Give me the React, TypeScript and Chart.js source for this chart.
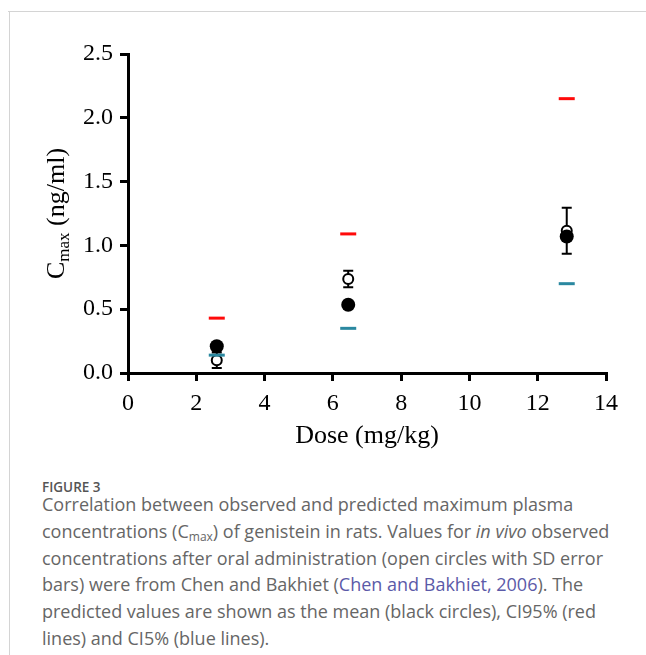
import React, { useEffect, useRef } from "react";
import { Chart, registerables } from "chart.js";

Chart.register(...registerables);

const doses = [2.6, 6.45, 12.85];
const ci95 = [0.43, 1.09, 2.15];
const ci5 = [0.14, 0.35, 0.70];
const predictedMean = [0.21, 0.535, 1.07];
const observedMean = [0.10, 0.737, 1.115];
const observedSD = [0.06, 0.065, 0.18];
const xTicks = [0, 2, 4, 6, 8, 10, 12, 14];
const yTicks = [0, 0.5, 1.0, 1.5, 2.0, 2.5];

const SERIF = '"Liberation Serif", "Times New Roman", serif';

const errorBarPlugin = {
  id: "errorBars",
  beforeDatasetDraw(chart: any, args: any) {
    if (args.index !== 3) return;
    const { ctx, scales } = chart;
    ctx.save();
    ctx.strokeStyle = "#000";
    ctx.lineWidth = 2;
    doses.forEach((d, i) => {
      const x = scales.x.getPixelForValue(d);
      const yTop = scales.y.getPixelForValue(observedMean[i] + observedSD[i]);
      const yBot = scales.y.getPixelForValue(observedMean[i] - observedSD[i]);
      ctx.beginPath();
      ctx.moveTo(x, yTop);
      ctx.lineTo(x, yBot);
      ctx.moveTo(x - 5, yTop);
      ctx.lineTo(x + 5, yTop);
      ctx.moveTo(x - 5, yBot);
      ctx.lineTo(x + 5, yBot);
      ctx.stroke();
    });
    ctx.restore();
  },
};

const yTitlePlugin = {
  id: "yTitle",
  afterDraw(chart: any) {
    const { ctx, chartArea } = chart;
    const big = `26px ${SERIF}`;
    const small = `17px ${SERIF}`;
    ctx.save();
    ctx.font = big;
    const wC = ctx.measureText("C").width;
    const wRest = ctx.measureText(" (ng/ml)").width;
    ctx.font = small;
    const wSub = ctx.measureText("max").width;
    const total = wC + wSub + wRest;
    const cy = (chartArea.top + chartArea.bottom) / 2;
    ctx.translate(64, cy);
    ctx.rotate(-Math.PI / 2);
    ctx.fillStyle = "#000";
    ctx.textBaseline = "alphabetic";
    ctx.textAlign = "left";
    let x = -total / 2;
    ctx.font = big;
    ctx.fillText("C", x, 0);
    x += wC;
    ctx.font = small;
    ctx.fillText("max", x, 5);
    x += wSub;
    ctx.font = big;
    ctx.fillText(" (ng/ml)", x, 0);
    ctx.restore();
  },
};

function ChartView() {
  const ref = useRef<HTMLCanvasElement | null>(null);
  useEffect(() => {
    if (!ref.current) return;
    const pts = (ys: number[]) => doses.map((d, i) => ({ x: d, y: ys[i] }));
    const chart = new Chart(ref.current, {
      type: "scatter",
      data: {
        datasets: [
          {
            label: "CI95%",
            data: pts(ci95),
            pointStyle: "line",
            pointRadius: 8,
            pointBorderWidth: 3,
            borderColor: "#ff0a0a",
            backgroundColor: "#ff0a0a",
          },
          {
            label: "CI5%",
            data: pts(ci5),
            pointStyle: "line",
            pointRadius: 8,
            pointBorderWidth: 3,
            borderColor: "#2a88a0",
            backgroundColor: "#2a88a0",
          },
          {
            label: "Predicted mean",
            data: pts(predictedMean),
            pointStyle: "circle",
            pointRadius: 7,
            pointBorderWidth: 0,
            borderColor: "#000",
            backgroundColor: "#000",
          },
          {
            label: "Observed",
            data: pts(observedMean),
            pointStyle: "circle",
            pointRadius: 5,
            pointBorderWidth: 2,
            borderColor: "#000",
            backgroundColor: "#fff",
          },
        ] as any,
      },
      options: {
        responsive: false,
        animation: false,
        devicePixelRatio: 1,
        layout: { padding: { top: 54, right: 40, bottom: 0, left: 0 } },
        plugins: {
          legend: { display: false },
          tooltip: { enabled: false },
        },
        scales: {
          x: {
            type: "linear",
            min: 0,
            max: 14,
            afterFit: (s: any) => {
              s.height = 97;
            },
            afterBuildTicks: (s: any) => {
              s.ticks = xTicks.map((v) => ({ value: v }));
            },
            ticks: {
              color: "#000",
              font: { family: SERIF, size: 24 },
              padding: 8,
              callback: (v: any) => String(v),
            },
            grid: {
              display: true,
              drawOnChartArea: false,
              drawTicks: true,
              tickLength: 8,
              lineWidth: 3,
              color: "#000",
            },
            border: { display: true, width: 3, color: "#000" },
            title: {
              display: true,
              text: "Dose (mg/kg)",
              color: "#000",
              font: { family: SERIF, size: 26 },
              padding: { top: 0, bottom: 18 },
            },
          },
          y: {
            type: "linear",
            min: 0,
            max: 2.5,
            afterFit: (s: any) => {
              s.width = 128;
            },
            afterBuildTicks: (s: any) => {
              s.ticks = yTicks.map((v) => ({ value: v }));
            },
            ticks: {
              color: "#000",
              font: { family: SERIF, size: 24 },
              padding: 7,
              callback: (v: any) => Number(v).toFixed(1),
            },
            grid: {
              display: true,
              drawOnChartArea: false,
              drawTicks: true,
              tickLength: 8,
              lineWidth: 3,
              color: "#000",
            },
            border: { display: true, width: 3, color: "#000" },
          },
        },
      } as any,
      plugins: [errorBarPlugin, yTitlePlugin],
    });
    return () => chart.destroy();
  }, []);
  return (
    <canvas
      ref={ref}
      width={646}
      height={470}
      style={{ position: "absolute", left: 0, top: 0, width: 646, height: 470 }}
    />
  );
}

export default function App() {
  const caption: React.CSSProperties = {
    position: "absolute",
    left: 42,
    top: 491,
    fontFamily: '"Open Sans", sans-serif',
    fontSize: 18,
    lineHeight: "26.8px",
    color: "#666",
    whiteSpace: "nowrap",
  };
  return (
    <div
      style={{
        position: "absolute",
        left: 0,
        top: 0,
        width: 646,
        height: 655,
        background: "#fff",
        overflow: "hidden",
      }}
    >
      <div style={{ position: "absolute", left: 8, top: 11, width: 638, height: 1, background: "#d4d4d4" }} />
      <div style={{ position: "absolute", left: 9, top: 11, width: 1, height: 644, background: "#d4d4d4" }} />
      <ChartView />
      <div
        style={{
          position: "absolute",
          left: 42,
          top: 479,
          fontFamily: '"Open Sans", sans-serif',
          fontWeight: 600,
          fontSize: 13.5,
          lineHeight: "16px",
          color: "#555",
          whiteSpace: "nowrap",
        }}
      >
        FIGURE 3
      </div>
      <div style={caption}>
        Correlation between observed and predicted maximum plasma
        <br />
        concentrations (C
        <sub style={{ fontSize: 12, verticalAlign: "-3px", lineHeight: 0 }}>max</sub>) of genistein in rats. Values for{" "}
        <i>in vivo</i> observed
        <br />
        concentrations after oral administration (open circles with SD error
        <br />
        bars) were from Chen and Bakhiet (
        <span style={{ color: "#5b5aa8" }}>Chen and Bakhiet, 2006</span>). The
        <br />
        predicted values are shown as the mean (black circles), CI95% (red
        <br />
        lines) and CI5% (blue lines).
      </div>
    </div>
  );
}
